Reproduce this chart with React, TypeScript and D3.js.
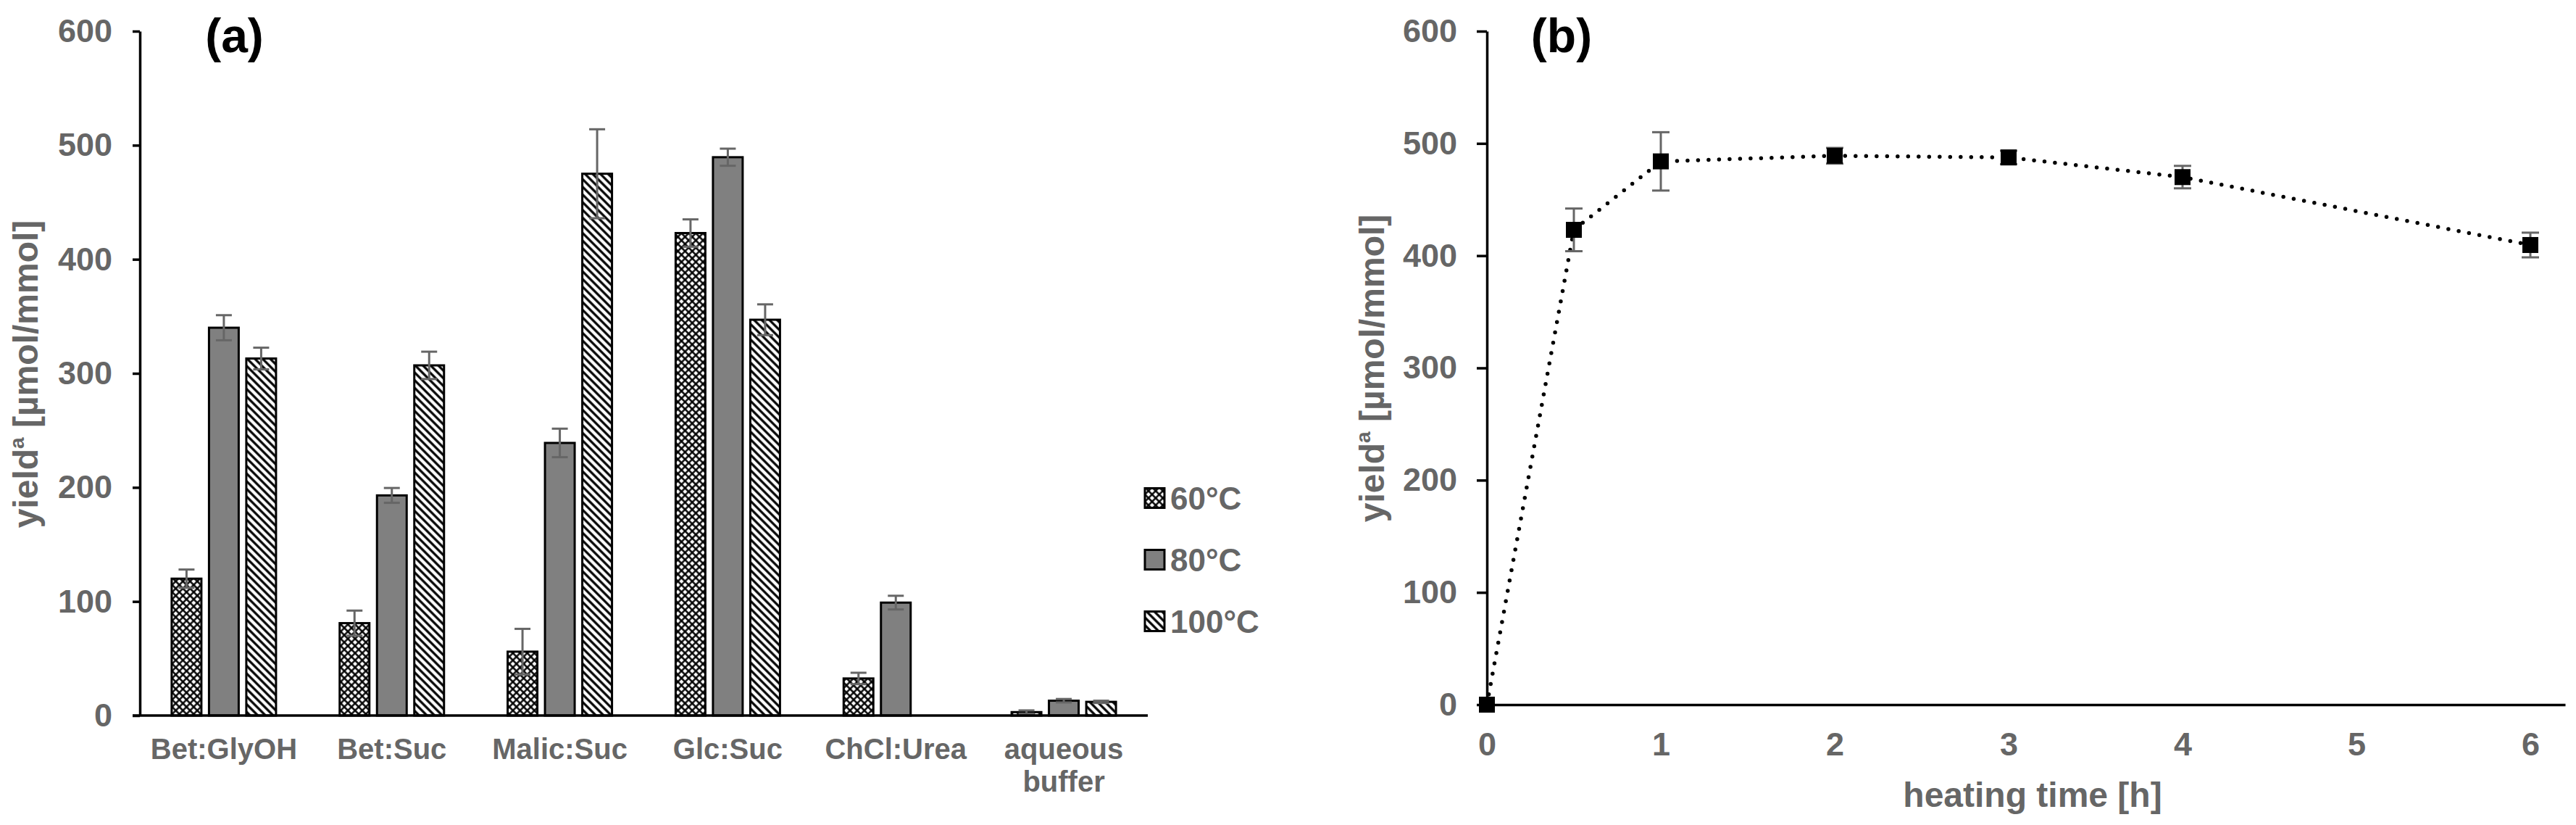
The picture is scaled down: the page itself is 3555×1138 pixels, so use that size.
import React, { useRef, useEffect } from 'react';
import * as d3 from 'd3';

// (a) yield per solvent and temperature
const solvents = ['Bet:GlyOH', 'Bet:Suc', 'Malic:Suc', 'Glc:Suc', 'ChCl:Urea', 'aqueous buffer'];
const temperatures = ['60°C', '80°C', '100°C'];
const yield60 = [120, 81, 56, 423, 32.5, 3];
const yield80 = [340, 193, 239, 489.5, 99, 13];
const yield100: (number | null)[] = [313, 307, 475, 347, null, 12];
const err60 = [8, 11, 20, 12, 5, 1.5];
const err80 = [11, 6.5, 12.5, 7.5, 6, 1.5];
const err100 = [9.5, 12, 39, 13.5, 0, 1];
const yieldTicks = [0, 100, 200, 300, 400, 500, 600];

// (b) yield over heating time
const heatingTime = [0, 0.5, 1, 2, 3, 4, 6];
const timeYield = [0, 423, 484, 489, 487.5, 470, 409.5];
const timeErr = [0, 19, 26, 7, 6, 10, 11];
const timeTicks = [0, 1, 2, 3, 4, 5, 6];

const WIDTH = 3555;
const HEIGHT = 1138;
const FONT = '"Liberation Sans", Arial, sans-serif';
const GREY = '#666666';

export default function App() {
  const svgRef = useRef<SVGSVGElement>(null);

  useEffect(() => {
    const svg = d3.select(svgRef.current);
    svg.selectAll('*').remove();
    svg.attr('width', WIDTH).attr('height', HEIGHT).style('font-family', FONT);

    svg.append('rect').attr('width', WIDTH).attr('height', HEIGHT).attr('fill', '#fff');

    // Patterns
    const defs = svg.append('defs');
    const p60 = defs.append('pattern')
      .attr('id', 'pat60')
      .attr('patternUnits', 'userSpaceOnUse')
      .attr('width', 7).attr('height', 7)
      .attr('patternTransform', 'rotate(45)');
    p60.append('rect').attr('width', 7).attr('height', 7).attr('fill', '#fff');
    p60.append('path').attr('d', 'M3.5,0V7M0,3.5H7').attr('stroke', '#000').attr('stroke-width', 2.4);

    const p100 = defs.append('pattern')
      .attr('id', 'pat100')
      .attr('patternUnits', 'userSpaceOnUse')
      .attr('width', 7.5).attr('height', 7.5)
      .attr('patternTransform', 'rotate(-45)');
    p100.append('rect').attr('width', 7.5).attr('height', 7.5).attr('fill', '#fff');
    p100.append('path').attr('d', 'M3.75,0V7.5').attr('stroke', '#000').attr('stroke-width', 3.2);

    const fills = ['url(#pat60)', '#808080', 'url(#pat100)'];
    const series = [yield60, yield80, yield100];
    const errors = [err60, err80, err100];

    // ---------- Panel (a) ----------
    const xA = d3.scaleBand<string>().domain(solvents).range([193, 1584]);
    const inner = d3.scaleBand<string>().domain(temperatures).range([-77.25, 77.25]);
    const yA = d3.scaleLinear().domain([0, 600]).range([987, 43]);
    const barW = 41;

    const gA = svg.append('g');

    series.forEach((vals, s) => {
      const rows = vals
        .map((v, i) => ({ cat: solvents[i], v, e: errors[s][i] }))
        .filter(d => d.v !== null) as { cat: string; v: number; e: number }[];
      const cx = (d: { cat: string }) =>
        (xA(d.cat) as number) + xA.bandwidth() / 2 + (inner(temperatures[s]) as number) + inner.bandwidth() / 2;

      gA.append('g')
        .selectAll('rect')
        .data(rows)
        .enter()
        .append('rect')
        .attr('x', d => cx(d) - barW / 2)
        .attr('width', barW)
        .attr('y', d => yA(d.v))
        .attr('height', d => yA(0) - yA(d.v))
        .attr('fill', fills[s])
        .attr('stroke', '#000')
        .attr('stroke-width', 3);

      const eb = gA.append('g')
        .attr('stroke', GREY)
        .attr('stroke-width', 3)
        .selectAll('g')
        .data(rows.filter(d => d.e > 0))
        .enter()
        .append('g');
      eb.append('line')
        .attr('x1', d => cx(d)).attr('x2', d => cx(d))
        .attr('y1', d => yA(d.v - d.e)).attr('y2', d => yA(d.v + d.e));
      eb.append('line')
        .attr('x1', d => cx(d) - 11).attr('x2', d => cx(d) + 11)
        .attr('y1', d => yA(d.v + d.e)).attr('y2', d => yA(d.v + d.e));
      eb.append('line')
        .attr('x1', d => cx(d) - 11).attr('x2', d => cx(d) + 11)
        .attr('y1', d => yA(d.v - d.e)).attr('y2', d => yA(d.v - d.e));
    });

    // Axes (a)
    const yAxisA = gA.append('g')
      .attr('transform', 'translate(193,0)')
      .call(d3.axisLeft(yA).tickValues(yieldTicks).tickSize(10).tickSizeOuter(0).tickPadding(28));
    yAxisA.selectAll('path, line').attr('stroke', '#000').attr('stroke-width', 3.5);
    yAxisA.selectAll('text')
      .attr('font-size', 45).attr('font-weight', 'bold').attr('fill', GREY).attr('font-family', FONT);

    gA.append('line')
      .attr('x1', 183).attr('x2', xA.range()[1])
      .attr('y1', yA(0)).attr('y2', yA(0))
      .attr('stroke', '#000').attr('stroke-width', 3.5);

    const catLabels = gA.append('g')
      .selectAll('text')
      .data(solvents)
      .enter()
      .append('text')
      .attr('text-anchor', 'middle')
      .attr('font-size', 40)
      .attr('font-weight', 'bold')
      .attr('fill', GREY)
      .attr('y', 1047);
    catLabels.each(function (d) {
      const t = d3.select(this);
      const cx = (xA(d) as number) + xA.bandwidth() / 2;
      d.split(' ').forEach((w, i) => {
        t.append('tspan').attr('x', cx).attr('dy', i === 0 ? 0 : 45).text(w);
      });
    });

    // Legend
    const legend = gA.append('g')
      .selectAll('g')
      .data(temperatures)
      .enter()
      .append('g')
      .attr('transform', (d, i) => `translate(1580,${687 + i * 85})`);
    legend.append('rect')
      .attr('x', 0).attr('y', -13.5).attr('width', 27).attr('height', 27)
      .attr('fill', (d, i) => fills[i])
      .attr('stroke', '#000').attr('stroke-width', 3);
    legend.append('text')
      .attr('x', 35).attr('y', 16)
      .attr('font-size', 44).attr('font-weight', 'bold').attr('fill', GREY)
      .text(d => d);

    gA.append('text')
      .attr('x', 323.5).attr('y', 72)
      .attr('text-anchor', 'middle')
      .attr('font-size', 66).attr('font-weight', 'bold').attr('fill', '#000')
      .text('(a)');

    const yTitle = (g: d3.Selection<SVGGElement, unknown, null, undefined>, x: number, y: number) => {
      const t = g.append('text')
        .attr('transform', `translate(${x},${y}) rotate(-90)`)
        .attr('text-anchor', 'middle')
        .attr('font-size', 48).attr('font-weight', 'bold').attr('fill', GREY);
      t.append('tspan').text('yield');
      t.append('tspan').attr('font-size', 28).attr('dy', -19).text('a');
      t.append('tspan').attr('dy', 19).text(' [µmol/mmol]');
    };
    yTitle(gA, 52, 516);

    // ---------- Panel (b) ----------
    const xB = d3.scaleLinear().domain([0, 6.2]).range([2052, 3540]);
    const yB = d3.scaleLinear().domain([0, 600]).range([972, 43]);
    const gB = svg.append('g');

    const yAxisB = gB.append('g')
      .attr('transform', 'translate(2052,0)')
      .call(d3.axisLeft(yB).tickValues(yieldTicks).tickSize(14).tickSizeOuter(0).tickPadding(27));
    yAxisB.selectAll('path, line').attr('stroke', '#000').attr('stroke-width', 3.5);
    yAxisB.selectAll('text')
      .attr('font-size', 45).attr('font-weight', 'bold').attr('fill', GREY).attr('font-family', FONT);

    const xAxisB = gB.append('g')
      .attr('transform', `translate(0,${yB(0)})`)
      .call(d3.axisBottom(xB).tickValues(timeTicks).tickFormat(d3.format('d')).tickSize(0).tickSizeOuter(0).tickPadding(38));
    xAxisB.selectAll('path').attr('stroke', '#000').attr('stroke-width', 3.5);
    xAxisB.selectAll('text')
      .attr('font-size', 45).attr('font-weight', 'bold').attr('fill', GREY).attr('font-family', FONT);

    const pts = heatingTime.map((t, i) => ({ t, v: timeYield[i], e: timeErr[i] }));

    const line = d3.line<{ t: number; v: number }>()
      .x(d => xB(d.t))
      .y(d => yB(d.v));

    gB.append('path')
      .datum(pts)
      .attr('d', line)
      .attr('fill', 'none')
      .attr('stroke', '#000')
      .attr('stroke-width', 5.5)
      .attr('stroke-linecap', 'round')
      .attr('stroke-dasharray', '0 14.5');

    const ebB = gB.append('g')
      .attr('stroke', GREY)
      .attr('stroke-width', 3)
      .selectAll('g')
      .data(pts.filter(d => d.e > 0))
      .enter()
      .append('g');
    ebB.append('line')
      .attr('x1', d => xB(d.t)).attr('x2', d => xB(d.t))
      .attr('y1', d => yB(d.v - d.e)).attr('y2', d => yB(d.v + d.e));
    ebB.append('line')
      .attr('x1', d => xB(d.t) - 12).attr('x2', d => xB(d.t) + 12)
      .attr('y1', d => yB(d.v + d.e)).attr('y2', d => yB(d.v + d.e));
    ebB.append('line')
      .attr('x1', d => xB(d.t) - 12).attr('x2', d => xB(d.t) + 12)
      .attr('y1', d => yB(d.v - d.e)).attr('y2', d => yB(d.v - d.e));

    gB.append('g')
      .selectAll('rect')
      .data(pts)
      .enter()
      .append('rect')
      .attr('x', d => xB(d.t) - 11)
      .attr('y', d => yB(d.v) - 11)
      .attr('width', 22)
      .attr('height', 22)
      .attr('fill', '#000');

    gB.append('text')
      .attr('x', 2155).attr('y', 72)
      .attr('text-anchor', 'middle')
      .attr('font-size', 66).attr('font-weight', 'bold').attr('fill', '#000')
      .text('(b)');

    yTitle(gB, 1910, 508);

    gB.append('text')
      .attr('x', 2805).attr('y', 1113)
      .attr('text-anchor', 'middle')
      .attr('font-size', 48).attr('font-weight', 'bold').attr('fill', GREY)
      .text('heating time [h]');
  }, []);

  return (
    <div style={{ position: 'absolute', left: 0, top: 0, background: '#fff' }}>
      <svg ref={svgRef} style={{ display: 'block' }} />
    </div>
  );
}
